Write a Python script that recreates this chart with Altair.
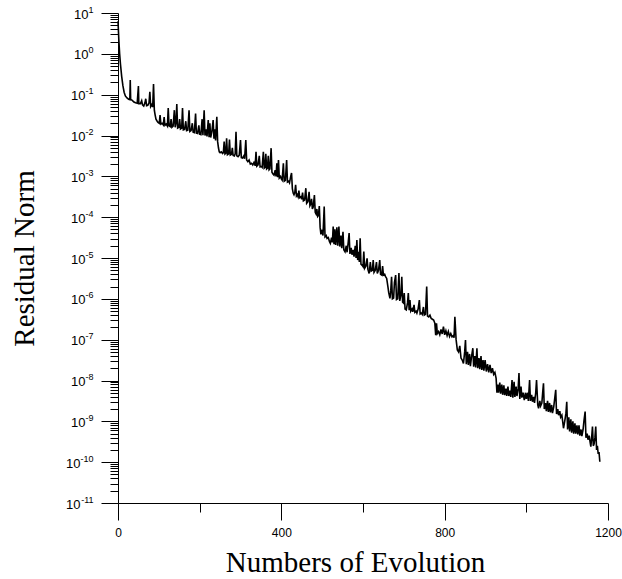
import altair as alt
import pandas as pd

# ---- data (x = evolution number, y = log10 of residual norm) ----
iterations = [
    0, 2, 4, 6, 9, 12, 15, 18, 22, 26, 29, 30, 31, 35, 39, 43, 47, 50, 51, 55,
    58, 60, 63, 66, 68, 70, 73, 76, 78, 80, 83, 85, 87, 89, 91, 93, 96,
    98, 101, 103, 105, 108, 111, 113, 115, 118, 121, 123, 125, 128, 130, 132, 135, 138, 140,
    142, 144, 146, 149, 151, 153, 156, 158, 160, 163, 166, 168, 171, 174, 176, 179, 182, 184,
    187, 190, 192, 195, 198, 200, 203, 206, 208, 211, 213, 216, 218, 221, 223, 225, 227, 230,
    233, 235, 237, 239, 242, 244, 246, 248,
    250, 253, 256, 258, 260, 262, 264, 266, 268, 271, 273, 275, 278, 280, 282, 285, 287, 289,
    291, 294, 297, 300, 302, 305, 308, 310, 313, 315, 318, 321, 324, 327, 330, 333, 336, 338,
    340, 343, 346, 348, 351, 353, 356, 358, 360, 362, 364, 366, 368, 370, 372, 375, 377, 380,
    382, 385, 387, 389, 391, 393, 395, 398, 400, 402, 405, 407, 410, 413, 415, 418, 420, 423,
    425, 427, 429,
    431, 433, 435, 437, 439, 441, 443, 445, 448, 450, 452, 454, 457, 460, 462, 465, 468, 470,
    472, 474, 476, 478, 481, 483, 485, 487, 489, 491, 493, 495, 497,
    500, 502, 505, 507, 510, 512, 515, 518, 520, 523, 525, 527, 529, 531, 533, 536, 538, 541,
    543, 546, 548, 551, 553, 556, 559, 561, 564, 566, 568, 571, 573, 576, 578, 581, 583, 585,
    587, 590, 591, 593, 595, 598, 600, 602, 604, 607, 610, 612, 615, 618, 620, 623, 625, 627,
    630, 633, 635, 638, 641, 643, 646, 648, 650, 653, 655, 658, 661,
    663, 666, 668, 670, 672, 675, 677, 680, 682, 685, 688, 690, 693, 695, 697, 699, 701, 703,
    706, 709, 711, 713, 715, 717, 720, 722, 725, 727, 730, 732, 735, 738, 740, 743, 745, 748,
    750, 753, 756, 758, 761, 764, 767, 770, 773, 776, 778,
    780, 782, 785, 788, 791, 794, 797, 800, 803, 806, 809, 812, 815, 818, 821, 823, 825, 828,
    831, 834, 837, 840, 843, 846, 849, 851, 853, 856, 858, 861, 863, 866, 869, 871, 874, 876,
    879, 881, 884, 886, 889, 891, 894, 896, 899, 902, 905, 908, 911, 914, 917, 920, 923, 926, 928,
    930, 932, 935, 937, 940, 942, 945, 947, 950, 952, 955, 957, 960, 962, 965, 967, 970, 972,
    975, 977, 980, 982, 984, 987, 989, 992, 995, 998, 1000, 1003, 1005, 1008, 1010, 1013, 1015,
    1018, 1020, 1023, 1025, 1028, 1030, 1033, 1035, 1038, 1040, 1042, 1044, 1047, 1049, 1052,
    1054, 1057, 1059, 1062, 1064, 1067, 1070, 1072, 1074, 1077, 1079, 1082, 1084, 1087, 1089,
    1091, 1094, 1097, 1099, 1101, 1104, 1106, 1109, 1111, 1114, 1116, 1119, 1121, 1124, 1126,
    1129, 1131, 1134, 1136, 1139, 1141, 1144, 1146, 1149, 1151, 1154, 1156, 1158, 1160, 1162,
    1164, 1166, 1168, 1170, 1172, 1174, 1176, 1178, 1180,
]

residual_log10 = [
    0.8, 0.35, 0.0, -0.25, -0.55, -0.78, -0.94, -1.03, -1.08, -1.11, -1.12, -0.64, -1.12, -1.14,
    -1.18, -1.2, -1.21, -0.79, -1.22, -1.22, -1.15, -1.25, -1.28, -1.2, -1.1, -1.27, -1.26, -1.2,
    -0.93, -1.29, -1.24, -1.3, -0.74, -1.38, -1.5, -1.6, -1.65,
    -1.68, -1.7, -1.5, -1.72, -1.7, -1.74, -1.55, -1.75, -1.72, -1.77, -1.33, -1.76, -1.78, -1.6,
    -1.8, -1.77, -1.38, -1.8, -1.7, -1.23, -1.82, -1.8, -1.6, -1.84, -1.82, -1.33, -1.86, -1.85,
    -1.65, -1.88, -1.87, -1.38, -1.9, -1.88, -1.7, -1.92, -1.93, -1.46, -1.94, -1.95, -1.75,
    -1.97, -1.98, -1.6, -1.99, -1.38, -2.0, -1.85, -2.02, -1.62, -2.04, -1.7, -2.05, -1.9, -1.62,
    -2.08, -1.85, -2.12, -1.54, -2.15, -2.3, -2.4,
    -2.42, -2.4, -2.44, -2.42, -2.15, -2.45, -2.43, -2.07, -2.47, -2.45, -2.1, -2.48, -2.46, -2.3,
    -2.49, -2.5, -2.45, -1.91, -2.5, -2.52, -2.48, -2.11, -2.54, -2.55, -2.5, -2.57, -2.11, -2.6,
    -2.64, -2.6, -2.7, -2.68, -2.72, -2.66, -2.74, -2.4, -2.75, -2.72, -2.5, -2.77, -2.76, -2.78,
    -2.4, -2.8, -2.78, -2.45, -2.82, -2.8, -2.5, -2.84, -2.82, -2.31, -2.9, -2.95, -2.97, -2.85,
    -3.0, -2.68, -3.02, -2.6, -3.04, -3.0, -3.06, -3.09, -2.68, -3.12, -3.1, -2.6, -3.14, -3.12,
    -3.16, -3.0, -2.92, -3.3, -3.41,
    -3.45, -3.4, -3.21, -3.48, -3.45, -3.5, -3.35, -3.52, -3.5, -3.56, -3.4, -3.6, -3.58, -3.29,
    -3.66, -3.62, -3.38, -3.72, -3.68, -3.55, -3.8, -3.75, -3.46, -3.88, -3.92, -3.8, -3.98,
    -3.95, -3.73, -4.25, -4.42,
    -4.31, -4.45, -3.74, -4.48, -4.45, -4.52, -4.5, -4.6, -4.64, -4.5, -4.62, -4.23, -4.66, -4.3,
    -4.68, -4.25, -4.7, -4.23, -4.72, -4.45, -4.76, -4.36, -4.8, -4.85, -4.7, -4.86, -4.6, -4.39,
    -4.9, -4.75, -4.92, -4.8, -4.97, -4.7, -5.0, -4.56, -5.05, -4.85, -5.1, -4.52, -5.15, -5.18,
    -5.21, -4.84, -5.25, -5.2, -5.01, -5.28, -5.38, -5.1, -5.32, -5.3, -5.05, -5.35, -5.3, -5.1,
    -5.38, -5.3, -5.05, -5.4, -5.42, -5.2, -5.42, -5.4, -5.45, -5.5, -5.7,
    -5.85, -5.99, -5.8, -5.46, -6.0, -5.98, -5.6, -5.42, -6.02, -6.0, -5.37, -6.05, -5.9, -5.46,
    -6.08, -6.1, -5.86, -6.25, -6.27, -6.1, -5.86, -6.28, -6.03, -6.3, -6.25, -6.32, -6.15,
    -6.33, -6.3, -6.35, -6.25, -6.03, -6.37, -6.35, -6.38, -6.2, -6.4, -6.38, -5.7, -6.42, -6.44,
    -6.4, -6.48, -6.5, -6.52, -6.6, -6.89,
    -6.6, -6.85, -6.8, -6.88, -6.75, -6.86, -6.68, -6.88, -6.78, -6.9, -6.8, -6.92, -6.85, -6.93,
    -6.9, -6.95, -6.44, -7.0, -7.25, -7.3, -7.15, -7.45, -7.5, -7.58, -7.3, -7.01, -7.6, -7.3,
    -7.62, -7.35, -7.65, -7.4, -7.21, -7.66, -7.4, -7.68, -7.21, -7.7, -7.45, -7.72, -7.4, -7.74,
    -7.5, -7.76, -7.5, -7.78, -7.6, -7.8, -7.62, -7.82, -7.7, -7.85, -7.8, -7.95, -8.3,
    -8.1, -8.3, -8.05, -8.32, -8.1, -8.35, -8.12, -8.36, -8.2, -8.38, -8.15, -8.38, -8.25, -8.4,
    -7.99, -8.42, -8.03, -8.4, -8.15, -8.38, -8.2, -7.82, -8.45, -8.15, -8.42, -8.3, -8.48, -8.3,
    -8.45, -8.3, -8.5, -7.99, -8.5, -8.35, -8.52, -8.4, -8.55, -8.3, -7.99, -8.6, -8.68, -8.5,
    -8.62, -8.55, -8.3, -8.07, -8.7, -8.55, -8.75, -8.5, -8.77, -8.55, -8.78, -8.6, -8.8, -8.65,
    -8.4, -8.23, -8.82, -8.7, -8.85, -8.75, -8.9, -8.85, -9.0, -9.17, -9.0, -8.8, -8.52, -9.2,
    -8.9, -9.25, -8.95, -9.28, -9.0, -9.3, -9.05, -9.3, -9.1, -9.32, -9.1, -9.35, -9.2, -9.36,
    -9.2, -9.0, -8.76, -9.4, -9.3, -9.45, -9.35, -9.5, -9.62, -9.4, -9.13, -9.6, -9.55, -9.4,
    -9.13, -9.7, -9.6, -9.8, -9.75, -9.99,
]

x_tick_values = [0, 200, 400, 600, 800, 1000, 1200]
x_labeled_ticks = [0, 400, 800, 1200]
y_exponents = [1, 0, -1, -2, -3, -4, -5, -6, -7, -8, -9, -10, -11]

assert len(iterations) == len(residual_log10)

df = pd.DataFrame({
    "iteration": iterations,
    "residual": [10.0 ** e for e in residual_log10],
})

y_major = [10.0 ** e for e in y_exponents]
y_minor = [m * 10.0 ** e for e in range(-11, 1) for m in range(2, 10)]

LOG = "(log(datum.value)/LN10)"
EXP = f"round({LOG})"
is_major = f"abs({LOG} - {EXP}) < 0.001"
base_label_expr = f"({is_major}) ? '10' : ''"
exp_label_expr = f"({is_major}) ? ('' + {EXP}) : ''"

x_test = " || ".join(f"datum.value == {v}" for v in x_labeled_ticks)
x_label_expr = f"({x_test}) ? format(datum.value, 'd') : ''"

common = dict(
    labelFont="Liberation Sans",
    labelColor="black",
    labelFlush=False,
    labelOverlap=False,
    labelBound=False,
    grid=False,
    domainColor="black",
    tickColor="black",
    domainWidth=1,
    tickWidth=1,
    titleFont="Liberation Serif",
    titleFontSize=29,
    titleFontWeight="normal",
    titleColor="black",
    titleAlign="center",
    titleBaseline="middle",
)

x_axis = alt.Axis(
    values=x_tick_values,
    labelExpr=x_label_expr,
    tickSize={"condition": {"test": x_test, "value": 17}, "value": 9},
    labelPadding=7,
    labelFontSize=12,
    title="Numbers of Evolution",
    titleX=237,
    titleY=59,
    **common,
)

# main y axis: ticks, domain, the "10" of every decade label
y_axis = alt.Axis(
    orient="left",
    values=y_major + y_minor,
    labelExpr=base_label_expr,
    tickSize={"condition": {"test": is_major, "value": 17}, "value": 8},
    labelPadding={
        "condition": [
            {"test": f"{EXP} >= 0", "value": 13},
            {"test": f"{EXP} >= -9", "value": 16},
        ],
        "value": 21,
    },
    labelFontSize=13,
    labelAlign="right",
    labelBaseline="middle",
    labelOffset=1,
    title="Residual Norm",
    titleX=-94,
    titleY=245,
    titleAngle=-90,
    **common,
)

# second y axis on the same scale: only the superscript exponents
exp_common = {k: v for k, v in common.items() if not k.startswith("title")}
y_exp_axis = alt.Axis(
    orient="left",
    values=y_major,
    labelExpr=exp_label_expr,
    ticks=False,
    domain=False,
    labelPadding=25,
    labelFontSize=9,
    labelAlign="right",
    labelBaseline="middle",
    labelOffset=-4,
    title=None,
    **exp_common,
)

x_enc = alt.X("iteration:Q", scale=alt.Scale(domain=[0, 1200], nice=False), axis=x_axis)
y_scale = alt.Scale(type="log", domain=[1e-11, 10], nice=False)

base = alt.Chart(df).encode(x=x_enc)
exp_layer = base.mark_line(opacity=0).encode(
    y=alt.Y("residual:Q", scale=y_scale, axis=y_exp_axis)
)
line = base.mark_line(color="black", strokeWidth=1.6).encode(
    y=alt.Y("residual:Q", scale=y_scale, axis=y_axis)
)

chart = alt.layer(exp_layer, line).resolve_axis(y="independent").properties(
    width=490,
    height=490,
    autosize=alt.AutoSizeParams(type="none"),
    padding={"left": 118, "top": 13, "right": 14, "bottom": 76},
    background="white",
).configure_view(stroke=None)

chart.save("out.html", embed_options={"renderer": "svg", "actions": False})
